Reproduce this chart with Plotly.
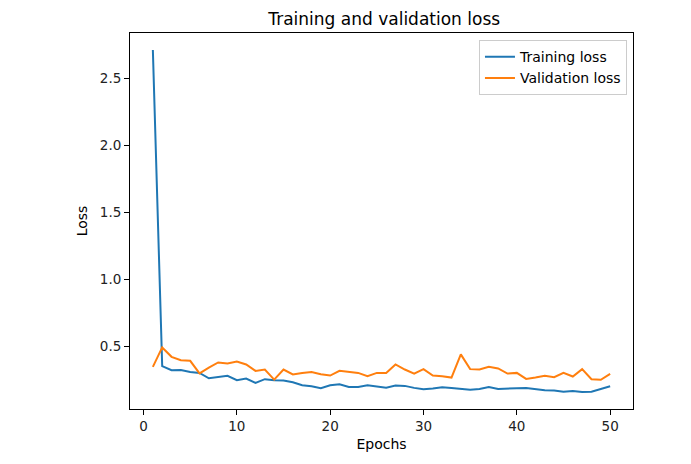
import plotly.graph_objects as go

epochs = list(range(1, 51))

training_loss = [
    2.71, 0.35, 0.32, 0.322, 0.307, 0.30, 0.26, 0.27, 0.278, 0.245,
    0.258, 0.225, 0.253, 0.245, 0.243, 0.23, 0.208, 0.20, 0.186, 0.208,
    0.215, 0.195, 0.195, 0.208, 0.20, 0.19, 0.205, 0.203, 0.188, 0.178,
    0.183, 0.193, 0.188, 0.18, 0.175, 0.18, 0.195, 0.18, 0.185, 0.185,
    0.188, 0.178, 0.17, 0.168, 0.16, 0.165, 0.158, 0.16, 0.18, 0.20,
]

validation_loss = [
    0.345, 0.49, 0.42, 0.395, 0.39, 0.296, 0.34, 0.378, 0.37, 0.385,
    0.363, 0.315, 0.325, 0.25, 0.325, 0.288, 0.30, 0.307, 0.29, 0.28,
    0.315, 0.307, 0.30, 0.275, 0.30, 0.30, 0.363, 0.325, 0.295, 0.328,
    0.28, 0.275, 0.265, 0.438, 0.328, 0.325, 0.345, 0.333, 0.295, 0.30,
    0.255, 0.265, 0.278, 0.268, 0.30, 0.273, 0.328, 0.253, 0.248, 0.293,
]

# matplotlib-style 5% margins
x_pad = (max(epochs) - min(epochs)) * 0.05
all_y = training_loss + validation_loss
y_pad = (max(all_y) - min(all_y)) * 0.05

fig = go.Figure()

fig.add_trace(go.Scatter(
    x=epochs, y=training_loss, mode="lines", name="Training loss",
    line=dict(color="#1f77b4", width=2)
))
fig.add_trace(go.Scatter(
    x=epochs, y=validation_loss, mode="lines", name="Validation loss",
    line=dict(color="#ff7f0e", width=2)
))

axis_style = dict(
    showline=True, linecolor="black", linewidth=1, mirror=True,
    ticks="outside", ticklen=5, tickwidth=1, tickcolor="black",
    showgrid=False, zeroline=False,
    tickfont=dict(size=13.5, color="#222"),
)

fig.update_layout(
    width=691, height=464,
    margin=dict(l=122, r=66, t=25, b=63),
    paper_bgcolor="white", plot_bgcolor="white",
    font=dict(family="DejaVu Sans", color="black"),
    title=dict(text="Training and validation loss", x=0.5445, xanchor="center",
               y=0.977, yanchor="middle", font=dict(size=17)),
    xaxis=dict(axis_style, range=[min(epochs) - x_pad, max(epochs) + x_pad],
               tickvals=[0, 10, 20, 30, 40, 50],
               title=dict(text="Epochs", font=dict(size=14), standoff=5)),
    yaxis=dict(axis_style, range=[min(all_y) - y_pad, max(all_y) + y_pad],
               tickvals=[0.5, 1.0, 1.5, 2.0, 2.5], tickformat=".1f",
               title=dict(text="Loss", font=dict(size=14), standoff=8)),
    legend=dict(x=0.988, y=0.981, xanchor="right", yanchor="top",
                bordercolor="#ccc", borderwidth=1, bgcolor="white",
                font=dict(size=14), tracegroupgap=0),
    showlegend=True,
)

fig.write_html("out.html")
